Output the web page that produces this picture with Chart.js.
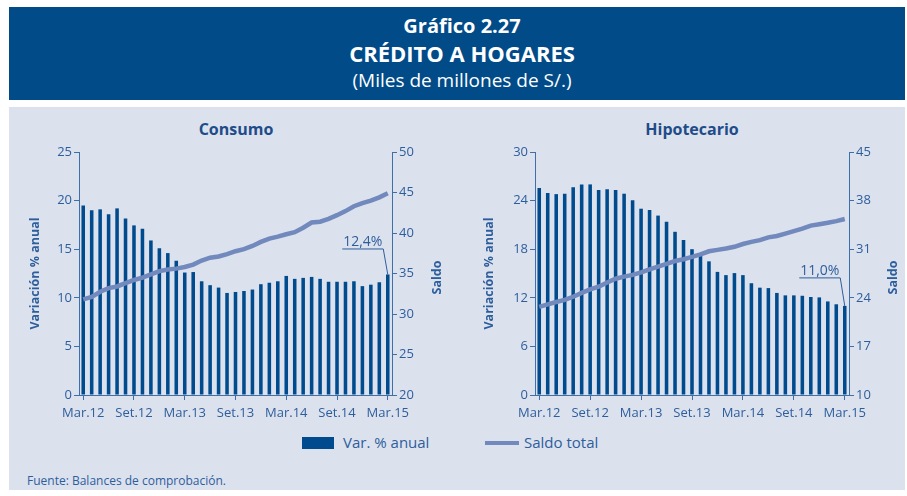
<!DOCTYPE html>
<html><head><meta charset="utf-8">
<script src="https://cdn.jsdelivr.net/npm/chart.js@4/dist/chart.umd.min.js"></script>
<style>
body{margin:0;width:907px;height:496px;background:#fff;position:relative;overflow:hidden;font-family:"Open Sans",sans-serif;}
#banner{position:absolute;left:9px;top:7px;width:896px;height:93px;background:#004B88;color:#fff;text-align:center;}
#banner div{position:absolute;left:0;width:906px;line-height:1.3;}
#panel{position:absolute;left:9px;top:107px;width:896px;height:383px;background:#DCE1EE;}
.t{position:absolute;color:#1E4C89;font-weight:bold;font-size:16px;transform:translateX(-50%);white-space:nowrap;}
canvas{position:absolute;}
.lg{position:absolute;color:#2D5E9C;font-size:15px;white-space:nowrap;}
</style></head>
<body>
<div id="banner">
  <div style="top:6px;font-size:20px;font-weight:bold;">Gráfico 2.27</div>
  <div style="top:32px;font-size:22px;font-weight:bold;">CRÉDITO A HOGARES</div>
  <div style="top:61px;font-size:19px;">(Miles de millones de S/.)</div>
</div>
<div id="panel"></div>
<div class="t" style="left:236px;top:118px;">Consumo</div>
<div class="t" style="left:692px;top:118px;">Hipotecario</div>
<canvas id="c1" width="440" height="300" style="left:14px;top:132px;"></canvas>
<canvas id="c2" width="430" height="300" style="left:470px;top:132px;"></canvas>
<div style="position:absolute;left:302px;top:437px;width:32px;height:12px;background:#004B8D;"></div>
<div class="lg" style="left:343px;top:432px;">Var. % anual</div>
<div style="position:absolute;left:485px;top:441px;width:34px;height:4px;background:#7189BD;"></div>
<div class="lg" style="left:524px;top:432px;">Saldo total</div>
<div class="lg" style="left:27px;top:472px;font-size:12px;">Fuente: Balances de comprobación.</div>
<script>
const months = ["Mar.12","Abr.12","May.12","Jun.12","Jul.12","Ago.12","Set.12","Oct.12","Nov.12","Dic.12","Ene.13","Feb.13",
"Mar.13","Abr.13","May.13","Jun.13","Jul.13","Ago.13","Set.13","Oct.13","Nov.13","Dic.13","Ene.14","Feb.14",
"Mar.14","Abr.14","May.14","Jun.14","Jul.14","Ago.14","Set.14","Oct.14","Nov.14","Dic.14","Ene.15","Feb.15","Mar.15"];
const consumoVar = [19.5,19.0,19.1,18.6,19.2,18.15,17.45,17.1,15.9,15.1,14.6,13.8,12.6,12.65,11.7,11.3,11.05,10.5,10.6,10.7,10.85,11.4,11.55,11.7,12.25,11.95,12.05,12.15,11.95,11.65,11.65,11.65,11.7,11.2,11.35,11.6,12.4];
const consumoSaldo = [31.8,32.1,32.75,33.2,33.4,33.8,34.2,34.5,34.9,35.3,35.5,35.6,35.8,36.1,36.6,36.95,37.1,37.4,37.75,38.0,38.4,38.9,39.3,39.55,39.85,40.1,40.65,41.3,41.4,41.75,42.2,42.7,43.3,43.7,44.0,44.4,44.9];
const hipVar = [25.55,24.95,24.8,24.85,25.65,26.0,26.0,25.3,25.4,25.3,24.85,24.05,23.0,22.85,22.15,21.4,20.15,19.15,18.0,17.15,16.5,15.2,14.8,15.05,14.8,13.8,13.25,13.2,12.6,12.3,12.3,12.25,12.1,12.05,11.55,11.2,11.0];
const hipSaldo = [22.7,23.05,23.4,23.7,24.15,24.7,25.2,25.6,26.2,26.75,27.05,27.3,27.65,28.1,28.5,28.9,29.3,29.55,29.9,30.25,30.7,30.9,31.1,31.35,31.75,32.05,32.3,32.7,32.9,33.25,33.6,33.95,34.4,34.6,34.8,35.05,35.35];
const consumoLeftTicks = {min:0,max:25,step:5};
const consumoRightTicks = {min:20,max:50,step:5};
const hipLeftTicks = {min:0,max:30,step:6};
const hipRightTicks = {min:10,max:45,step:7};
const leftTitle = "Variación % anual";
const rightTitle = "Saldo";
const consumoNote = "12,4%";
const hipNote = "11,0%";

const BAR = "#004B8D", LINE = "#7189BD", AXIS = "#3F6FAA", TXT = "#2D5E9C";
const FONT = "Open Sans";

function makeChart(id, vars, saldo, lt, rt, note, opt) {
  const extras = {
    id: 'extras',
    afterDatasetsDraw(chart) {
      const ctx = chart.ctx, a = chart.chartArea;
      ctx.save();
      ctx.fillStyle = TXT;
      ctx.font = "bold 12.5px '" + FONT + "'";
      ctx.textAlign = "center"; ctx.textBaseline = "middle";
      const cy = (a.top + a.bottom) / 2;
      ctx.save(); ctx.translate(a.left - opt.lt, cy); ctx.rotate(-Math.PI/2); ctx.fillText(leftTitle, 0, 0); ctx.restore();
      ctx.save(); ctx.translate(a.right + opt.rt, cy + 4); ctx.rotate(-Math.PI/2); ctx.fillText(rightTitle, 0, 0); ctx.restore();
      const el = chart.getDatasetMeta(1).data[vars.length - 1];
      const x = el.x, y = el.y;
      const ex = x - 4.5, ey = y - opt.dy;
      ctx.strokeStyle = TXT; ctx.lineWidth = 1;
      ctx.beginPath(); ctx.moveTo(x, y); ctx.lineTo(ex, ey); ctx.lineTo(ex - 41, ey); ctx.stroke();
      ctx.font = "14px '" + FONT + "'";
      ctx.textBaseline = "alphabetic";
      ctx.fillText(note, ex - 20.5, ey - 3);
      ctx.restore();
    }
  };
  return new Chart(document.getElementById(id), {
    data: {
      labels: months,
      datasets: [
        {type:'line', data:saldo, yAxisID:'y1', borderColor:LINE, borderWidth:4.5, pointRadius:0, tension:0, order:0, borderCapStyle:'butt'},
        {type:'bar', data:vars, yAxisID:'y', backgroundColor:BAR, barPercentage:0.42, categoryPercentage:1, order:1}
      ]
    },
    options: {
      responsive:false, animation:false,
      layout:{padding:{top:20,left:0,right:0,bottom:0}},
      plugins:{legend:{display:false}, tooltip:{enabled:false}, title:{display:false}},
      scales:{
        x:{
          offset:true,
          grid:{offset:false, drawOnChartArea:false, drawTicks:true, tickLength:5,
                color:(c)=> (c.index % 6 === 0 ? AXIS : 'rgba(0,0,0,0)')},
          border:{display:true,color:AXIS},
          ticks:{autoSkip:false, maxRotation:0, minRotation:0, padding:5, color:TXT, font:{family:FONT,size:13},
                 callback:(v,i)=> (i % 6 === 0 ? months[i] : '')},
          afterFit:(s)=>{ s.height = opt.xh; }
        },
        y:{
          position:'left', min:lt.min, max:lt.max,
          grid:{drawOnChartArea:false, tickLength:5, color:AXIS},
          border:{display:true,color:AXIS},
          ticks:{stepSize:lt.step, padding:2, color:TXT, font:{family:FONT,size:13}},
          afterFit:(s)=>{ s.width = opt.lw; }
        },
        y1:{
          position:'right', min:rt.min, max:rt.max,
          grid:{drawOnChartArea:false, tickLength:5, color:AXIS},
          border:{display:true,color:AXIS},
          ticks:{stepSize:rt.step, padding:2, color:TXT, font:{family:FONT,size:13}},
          afterFit:(s)=>{ s.width = opt.rw; }
        }
      }
    },
    plugins:[extras]
  });
}
makeChart('c1', consumoVar, consumoSaldo, consumoLeftTicks, consumoRightTicks, consumoNote, {lw:65, rw:62, xh:37, lt:44, rt:45, dy:25.5});
makeChart('c2', hipVar, hipSaldo, hipLeftTicks, hipRightTicks, hipNote, {lw:65, rw:51, xh:37, lt:46, rt:44, dy:28});
</script>
</body></html>
